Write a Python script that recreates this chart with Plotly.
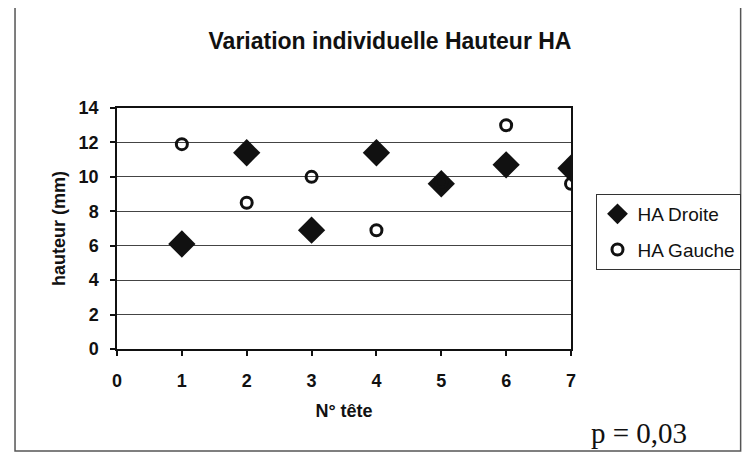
import plotly.graph_objects as go

tete = [1, 2, 3, 4, 5, 6, 7]
ha_droite = [6.1, 11.4, 6.9, 11.4, 9.6, 10.7, 10.5]
ha_gauche = [11.9, 8.5, 10.0, 6.9, 9.7, 13.0, 9.6]
x_ticks = [0, 1, 2, 3, 4, 5, 6, 7]
y_ticks = [0, 2, 4, 6, 8, 10, 12, 14]

# the page body has an 8px default margin; work in page coords and subtract it
OFF = 8
W, H = 754 - OFF, 456 - OFF
L, R, T, B = 117 - OFF, 580 - OFF, 108 - OFF, 349 - OFF
pw, ph = R - L, B - T

def px(x):
    return (x - OFF - L) / pw

def py(y):
    return (B - (y - OFF)) / ph

fig = go.Figure()
fig.add_trace(go.Scatter(
    x=tete, y=ha_droite, mode="markers", name="HA Droite", legendgroup="d",
    marker=dict(symbol="diamond", size=21, color="#111111",
                line=dict(width=0)),
))
fig.add_trace(go.Scatter(
    x=tete, y=ha_gauche, mode="markers", name="HA Gauche", legendgroup="g",
    marker=dict(symbol="circle-open", size=11, color="#111111",
                line=dict(width=3, color="#111111")),
))

font_main = "Liberation Sans, Arial, sans-serif"

fig.update_layout(
    width=W, height=H,
    margin=dict(l=L, r=W - R, t=T, b=H - B, pad=0),
    paper_bgcolor="white", plot_bgcolor="white",
    font=dict(family=font_main, color="#111111"),
    title=dict(text="<b>Variation individuelle Hauteur HA</b>",
               x=(390 - OFF) / W, xref="container", xanchor="center",
               y=1 - (41 - OFF) / H, yref="container", yanchor="middle",
               font=dict(size=23, family=font_main, color="#111111")),
    showlegend=True,
    legend=dict(x=px(606), y=py(194), xanchor="left", yanchor="top",
                bordercolor="#333333", borderwidth=1, bgcolor="white",
                font=dict(size=19, family=font_main, color="#111111"),
                traceorder="grouped", tracegroupgap=8,
                itemsizing="trace"),
    xaxis=dict(range=[0, 7], tickvals=x_ticks, ticktext=[f"<b>{v}</b>" for v in x_ticks],
               showgrid=False, zeroline=False,
               showline=True, linecolor="#111111", linewidth=1.5, mirror=True,
               ticks="outside", ticklen=5, tickcolor="#111111", tickwidth=1.5,
               ticklabelstandoff=10,
               tickfont=dict(size=18, family=font_main, color="#111111"),
               title=dict(text="<b>N° tête</b>", standoff=14,
                          font=dict(size=18, family=font_main, color="#111111"))),
    yaxis=dict(range=[0, 14], tickvals=y_ticks, ticktext=[f"<b>{v}</b>" for v in y_ticks],
               showgrid=True, gridcolor="#444444", gridwidth=1, zeroline=False,
               showline=True, linecolor="#111111", linewidth=1.5, mirror=True,
               ticks="outside", ticklen=5, tickcolor="#111111", tickwidth=1.5,
               ticklabelstandoff=8,
               tickfont=dict(size=18, family=font_main, color="#111111"),
               title=dict(text="<b>hauteur (mm)</b>", standoff=8,
                          font=dict(size=18, family=font_main, color="#111111"))),
)

# outer chart frame
fig.add_shape(type="rect", xref="paper", yref="paper",
              x0=px(13), x1=px(753), y0=py(451), y1=py(6),
              line=dict(color="#555555", width=1.5), fillcolor="rgba(0,0,0,0)",
              layer="below")

fig.add_annotation(text="p = 0,03", xref="paper", yref="paper",
                   x=px(649), y=py(433), xanchor="center", yanchor="middle",
                   showarrow=False,
                   font=dict(size=29, family="Liberation Serif, Times New Roman, serif",
                             color="#111111"))

fig.write_html("out.html")
